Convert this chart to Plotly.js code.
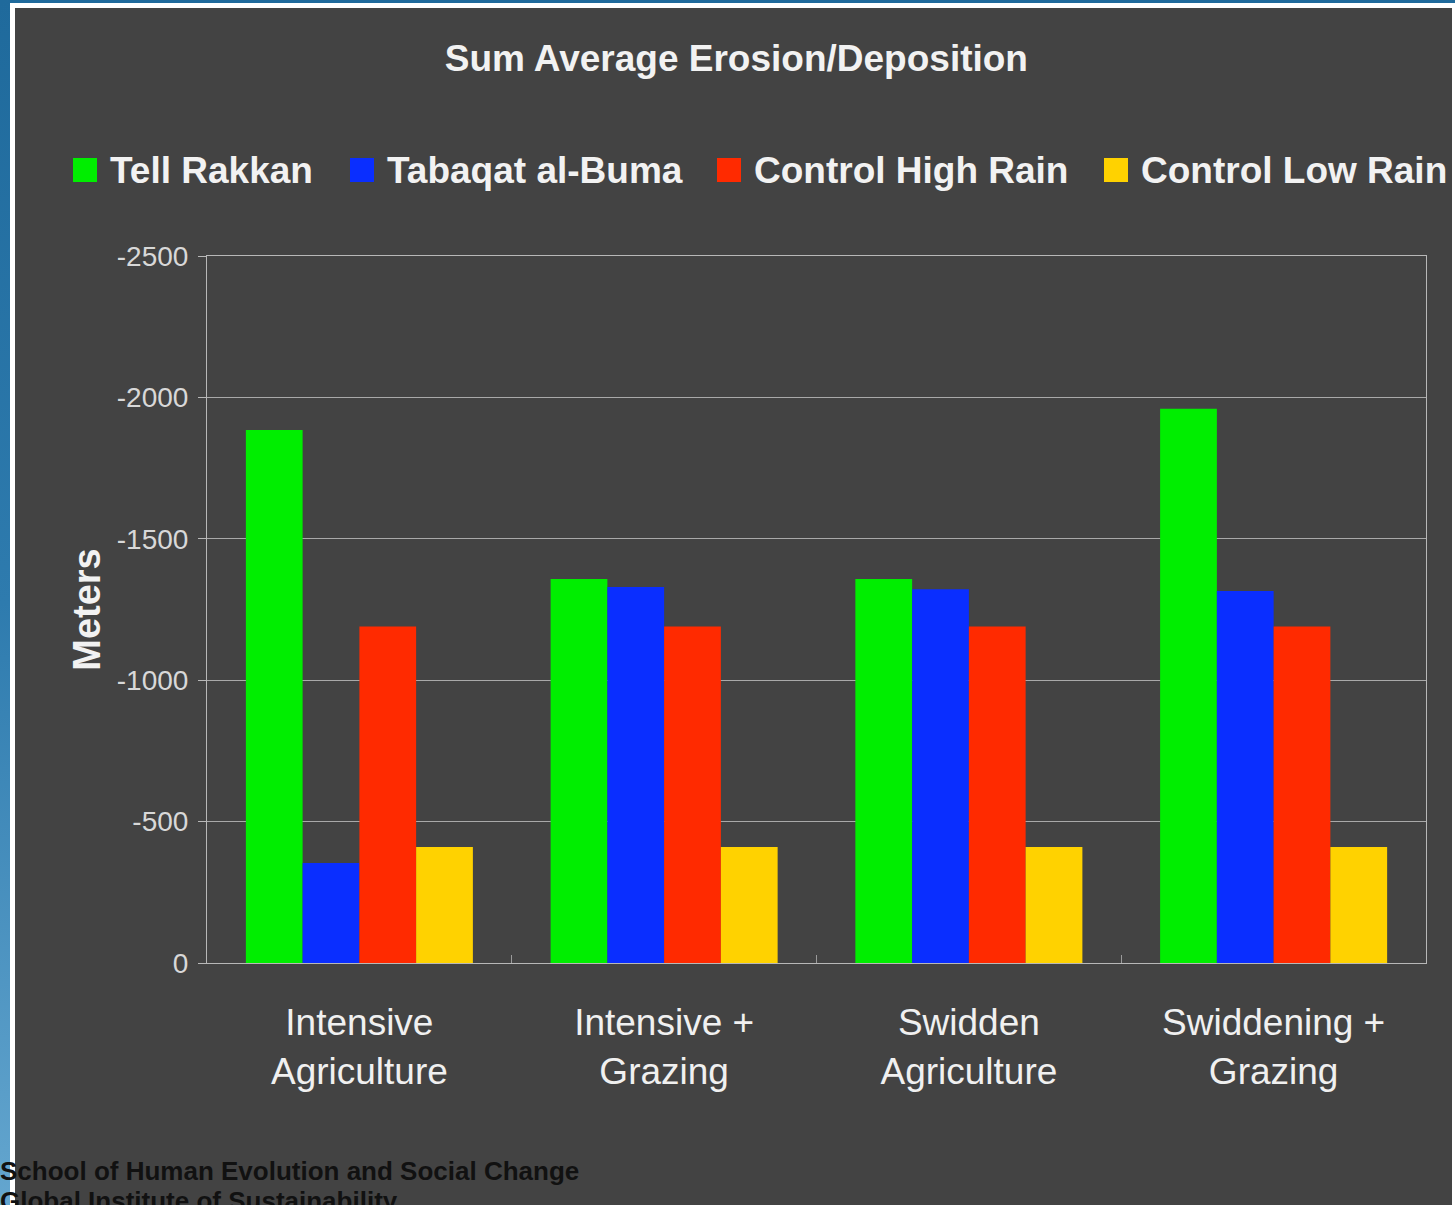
<!DOCTYPE html>
<html>
<head>
<meta charset="utf-8">
<script src="https://cdn.plot.ly/plotly-3.0.1.min.js"></script>
<style>
  html, body { margin: 0; padding: 0; width: 1455px; height: 1205px; overflow: hidden; background: #ffffff; }
  #topband { position: absolute; left: 0; top: 0; width: 1455px; height: 3px; background: #1f6a9c; }
  #leftband { position: absolute; left: 0; top: 0; width: 10px; height: 1205px;
              background: linear-gradient(to bottom, #1f6a9c 0%, #2e7bae 50%, #64a6cf 100%); }
  #chart { position: absolute; left: 15px; top: 8px; width: 1437px; height: 1197px; }
  #footer { position: absolute; left: 0px; top: 1156px; z-index: 5;
            font-family: "Liberation Sans", Arial, sans-serif; font-weight: bold; font-size: 26px;
            line-height: 30px; color: #111111; white-space: nowrap; }
</style>
</head>
<body>
<div id="topband"></div>
<div id="leftband"></div>
<div id="chart"></div>
<div id="footer">School of Human Evolution and Social Change<br>Global Institute of Sustainability</div>
<script>
const categories = ["Intensive<br>Agriculture", "Intensive +<br>Grazing", "Swidden<br>Agriculture", "Swiddening +<br>Grazing"];
const seriesNames = ["Tell Rakkan", "Tabaqat al-Buma", "Control High Rain", "Control Low Rain"];
const tellRakkan = [-1885, -1358, -1358, -1960];
const tabaqatAlBuma = [-354, -1330, -1322, -1315];
const controlHighRain = [-1190, -1190, -1190, -1190];
const controlLowRain = [-410, -410, -410, -410];
const yTickVals = [0, -500, -1000, -1500, -2000, -2500];

const seriesValues = [tellRakkan, tabaqatAlBuma, controlHighRain, controlLowRain];
const colors = ["#00ee00", "#0a2eff", "#ff2a00", "#ffd200"];

const traces = seriesValues.map((vals, i) => ({
  type: "bar",
  name: seriesNames[i],
  x: categories,
  y: vals,
  marker: { color: colors[i], line: { width: 0 } },
  showlegend: false,
  hoverinfo: "x+y+name"
}));

// Chart geometry in div pixels, used to place the hand-built legend
const W = 1437, H = 1197;
const mL = 192, mR = 26, mT = 248, mB = 242;
const pw = W - mL - mR, ph = H - mT - mB;
const px = x => (x - mL) / pw;
const py = y => (H - mB - y) / ph;

const legendSquareX = [58, 335, 702, 1089];
const legendY = 162;
const shapes = [];
const annotations = [];
seriesNames.forEach((name, i) => {
  const x0 = legendSquareX[i];
  shapes.push({
    type: "rect", xref: "paper", yref: "paper",
    x0: px(x0), x1: px(x0 + 24), y0: py(legendY + 12), y1: py(legendY - 12),
    fillcolor: colors[i], line: { width: 0 }
  });
  annotations.push({
    xref: "paper", yref: "paper", x: px(x0 + 35), y: py(legendY + 1),
    xanchor: "left", yanchor: "middle", showarrow: false,
    text: name,
    font: { family: "Liberation Sans, Arial, sans-serif", size: 37, color: "#f2f2f2", weight: "bold" }
  });
});

const layout = {
  width: W, height: H,
  paper_bgcolor: "#434343",
  plot_bgcolor: "#434343",
  margin: { l: mL, r: mR, t: mT, b: mB, pad: 0 },
  title: {
    text: "<b>Sum Average Erosion/Deposition</b>",
    x: 0.502, xanchor: "center", xref: "container",
    y: 1 - 50 / H, yanchor: "middle", yref: "container",
    font: { family: "Liberation Sans, Arial, sans-serif", size: 37, color: "#f2f2f2" }
  },
  barmode: "group",
  bargap: 0.255,
  bargroupgap: 0,
  xaxis: {
    type: "category",
    tickfont: { family: "Liberation Sans, Arial, sans-serif", size: 37, color: "#f0f0f0" },
    showline: true, linecolor: "#b8b8b8", linewidth: 1, mirror: true,
    ticks: "inside", tickson: "boundaries", ticklen: 8, tickcolor: "#9a9a9a",
    ticklabelstandoff: 27,
    showgrid: false, zeroline: false
  },
  yaxis: {
    range: [0, -2500],
    tickvals: yTickVals,
    ticktext: yTickVals.map(v => String(v)),
    tickfont: { family: "Liberation Sans, Arial, sans-serif", size: 28, color: "#d8d8d8" },
    showline: true, linecolor: "#b8b8b8", linewidth: 1, mirror: true,
    ticks: "outside", ticklen: 8, tickcolor: "#b8b8b8",
    ticklabelstandoff: 4,
    showgrid: true, gridcolor: "#a9a9a9", gridwidth: 1,
    zeroline: false,
    title: {
      text: "<b>Meters</b>",
      standoff: 4,
      font: { family: "Liberation Sans, Arial, sans-serif", size: 38, color: "#f2f2f2" }
    }
  },
  shapes: shapes,
  annotations: annotations,
  hovermode: "closest"
};

Plotly.newPlot("chart", traces, layout, { displayModeBar: false, responsive: false });
</script>
</body>
</html>
